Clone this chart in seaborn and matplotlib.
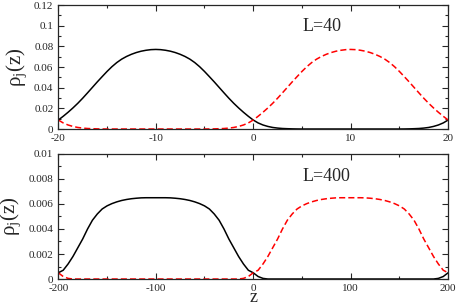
import numpy as np
import pandas as pd
import matplotlib
matplotlib.use('Agg')
import matplotlib.pyplot as plt
from matplotlib.ticker import MultipleLocator, FormatStrFormatter
import seaborn as sns

# L=40 panel, z step 0.5
z_40 = [i * 0.5 for i in range(-40, 41)]
rho1_40 = ([0.0087, 0.0123, 0.0162, 0.0204, 0.0249, 0.0298, 0.0350, 0.0403, 0.0456, 0.0507,
            0.0557, 0.0603, 0.0643, 0.0676, 0.0702, 0.0723, 0.0740, 0.0753, 0.0762, 0.0768,
            0.0770,
            0.0768, 0.0762, 0.0753, 0.0740, 0.0723, 0.0702, 0.0676, 0.0643, 0.0603, 0.0557,
            0.0507, 0.0456, 0.0403, 0.0350, 0.0298, 0.0249, 0.0204, 0.0162, 0.0123, 0.0087,
            0.0059, 0.0039, 0.0025, 0.0015, 0.0009, 0.0005, 0.0003, 0.00015, 0.00005, 0.0]
           + [0.0] * 19
           + [0.0, 0.00005, 0.00015, 0.0003, 0.0005, 0.0009, 0.0015, 0.0025, 0.0039, 0.0059,
              0.0087])
rho2_40 = ([0.0087, 0.0059, 0.0039, 0.0025, 0.0015, 0.0009, 0.0005, 0.0003, 0.00015, 0.00005,
            0.0]
           + [0.0] * 19
           + [0.0, 0.00005, 0.00015, 0.0003, 0.0005, 0.0009, 0.0015, 0.0025, 0.0039, 0.0059,
              0.0087, 0.0123, 0.0162, 0.0204, 0.0249, 0.0298, 0.0350, 0.0403, 0.0456, 0.0507,
              0.0557, 0.0603, 0.0643, 0.0676, 0.0702, 0.0723, 0.0740, 0.0753, 0.0762, 0.0768,
              0.0770,
              0.0768, 0.0762, 0.0753, 0.0740, 0.0723, 0.0702, 0.0676, 0.0643, 0.0603, 0.0557,
              0.0507, 0.0456, 0.0403, 0.0350, 0.0298, 0.0249, 0.0204, 0.0162, 0.0123, 0.0087])

# L=400 panel, z step 5
z_400 = list(range(-200, 201, 5))
rho1_400 = ([0.0005, 0.0007, 0.0012, 0.0018, 0.0025, 0.0032, 0.0040, 0.0047, 0.0052, 0.0056,
             0.00585, 0.00603, 0.00617, 0.00628, 0.00636, 0.00642, 0.00646, 0.00649, 0.0065, 0.0065,
             0.0065,
             0.0065, 0.0065, 0.00649, 0.00646, 0.00642, 0.00636, 0.00628, 0.00617, 0.00603, 0.00585,
             0.0056, 0.0052, 0.0047, 0.0040, 0.0032, 0.0025, 0.0018, 0.0012, 0.0007, 0.0005,
             0.0002, 0.00005]
            + [0.0] * 35
            + [0.00005, 0.0002, 0.0005])
rho2_400 = ([0.0005, 0.0002, 0.00005]
            + [0.0] * 35
            + [0.00005, 0.0002,
               0.0005, 0.0007, 0.0012, 0.0018, 0.0025, 0.0032, 0.0040, 0.0047, 0.0052, 0.0056,
               0.00585, 0.00603, 0.00617, 0.00628, 0.00636, 0.00642, 0.00646, 0.00649, 0.0065, 0.0065,
               0.0065,
               0.0065, 0.0065, 0.00649, 0.00646, 0.00642, 0.00636, 0.00628, 0.00617, 0.00603, 0.00585,
               0.0056, 0.0052, 0.0047, 0.0040, 0.0032, 0.0025, 0.0018, 0.0012, 0.0007, 0.0005])

sns.set_style('ticks')
plt.rcParams['font.family'] = ['Liberation Serif', 'DejaVu Serif']
plt.rcParams['mathtext.fontset'] = 'custom'
plt.rcParams['mathtext.rm'] = 'Liberation Serif'
plt.rcParams['mathtext.it'] = 'Liberation Serif:italic'
plt.rcParams['axes.unicode_minus'] = False

fig = plt.figure(figsize=(4.57, 3.05), dpi=100)
ax1 = fig.add_axes([0.1276, 0.577, 0.853, 0.4066])
ax2 = fig.add_axes([0.1276, 0.0852, 0.853, 0.41])


def draw(ax, z, r1, r2):
    df = pd.DataFrame({'z': z, 'r1': r1, 'r2': r2})
    sns.lineplot(data=df, x='z', y='r1', ax=ax, color='black', lw=1.1)
    sns.lineplot(data=df, x='z', y='r2', ax=ax, color='red', lw=1.1, linestyle=(0, (4, 2)))
    ax.tick_params(which='both', direction='in', top=True, right=True, labelsize=8, width=0.8)
    ax.tick_params(which='major', length=4)
    ax.tick_params(which='minor', length=2)
    for s in ax.spines.values():
        s.set_linewidth(0.9)
    ax.yaxis.set_major_formatter(FormatStrFormatter('%g'))
    ax.xaxis.set_major_formatter(FormatStrFormatter('%g'))
    ax.set_ylabel(r'ρ$_\mathrm{j}$(z)', fontsize=15, labelpad=4)
    ax.set_xlabel('')


draw(ax1, z_40, rho1_40, rho2_40)
ax1.set_xlim(-20, 20)
ax1.set_ylim(0, 0.12)
ax1.xaxis.set_major_locator(MultipleLocator(10))
ax1.xaxis.set_minor_locator(MultipleLocator(5))
ax1.yaxis.set_major_locator(MultipleLocator(0.02))
ax1.yaxis.set_minor_locator(MultipleLocator(0.01))
ax1.text(7.1, 0.099, 'L=40', fontsize=13, ha='center', va='center')

draw(ax2, z_400, rho1_400, rho2_400)
ax2.set_xlim(-200, 200)
ax2.set_ylim(0, 0.01)
ax2.xaxis.set_major_locator(MultipleLocator(100))
ax2.xaxis.set_minor_locator(MultipleLocator(50))
ax2.yaxis.set_major_locator(MultipleLocator(0.002))
ax2.yaxis.set_minor_locator(MultipleLocator(0.001))
ax2.text(75, 0.0082, 'L=400', fontsize=13, ha='center', va='center')
ax2.set_xlabel('z', fontsize=13, va='baseline')
ax2.xaxis.set_label_coords(0.5, -0.185)

fig.savefig('out.png', dpi=100)
